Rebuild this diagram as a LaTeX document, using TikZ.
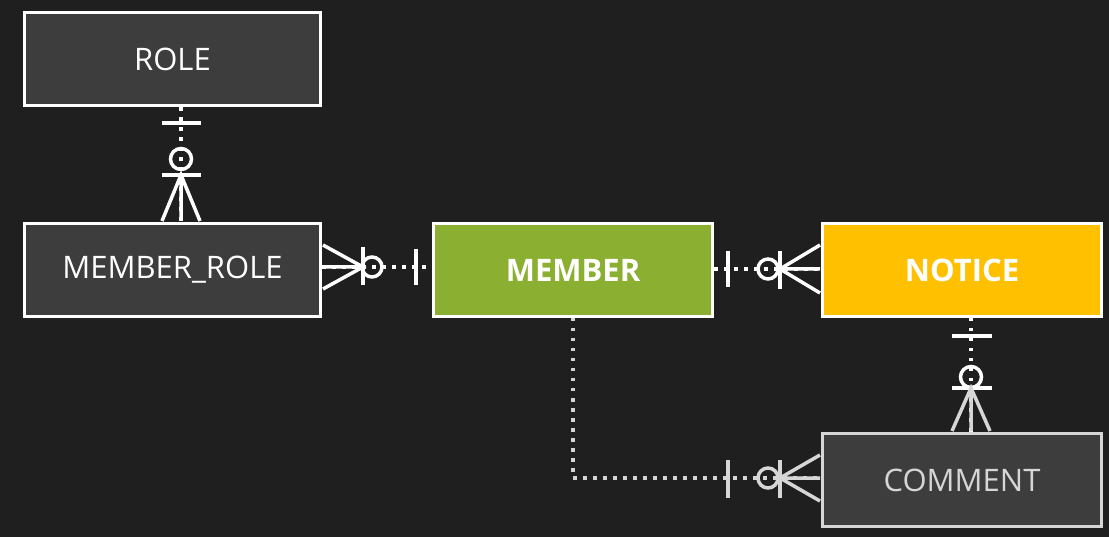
\documentclass[tikz,border=0pt]{standalone}
\usepackage{fontspec}
\setmainfont{Open Sans}
\usetikzlibrary{calc}
\definecolor{bg}{HTML}{1F1F1F}
\definecolor{boxdark}{HTML}{3D3D3D}
\definecolor{memgreen}{HTML}{8BAF31}
\definecolor{notyellow}{HTML}{FFC000}
\definecolor{lgray}{HTML}{D6D6D6}
\tikzset{
  erbox/.style={draw=white, line width=3pt, minimum width=296pt, minimum height=93pt, inner sep=0pt, font=\fontsize{31}{33}\selectfont},
  darkbox/.style={erbox, fill=boxdark, text=white},
  boldbox/.style={erbox, text=white, minimum width=279pt, font=\fontsize{31}{33}\selectfont\bfseries},
  dotline/.style={line width=3.5pt, dash pattern=on 3.5pt off 6.5pt, white},
  sym/.style={line width=3.5pt, white},
}
\begin{document}
\begin{tikzpicture}[x=1pt,y=-1pt]
\fill[bg] (0,0) rectangle (1109,537);
\useasboundingbox (0,0) rectangle (1109,537);
% boxes
\node[darkbox] (role) at (172.5,59.5) {ROLE};
\node[darkbox] (mrole) at (172.5,270) {MEMBER\_ROLE};
\node[boldbox, fill=memgreen] (member) at (573,270) {MEMBER};
\node[boldbox, fill=notyellow] (notice) at (962,270) {NOTICE};
\node[erbox, draw=lgray, fill=boxdark, text=lgray, minimum width=279pt] (comment) at (962,480) {COMMENT};
% connector ROLE - MEMBER_ROLE
\draw[dotline] ($(role.south)+(8.5,0)$) -- ($(mrole.north)+(8.5,0)$);
\draw[sym] (162,123) -- (201,123);
\draw[sym] (181,159) circle (10.5);
\draw[sym] (162,175) -- (201,175);
\draw[sym] (162,221) -- (181,175) -- (200,221) (181,175) -- (181,221);
% connector MEMBER_ROLE - MEMBER
\draw[dotline] (mrole.east |- 0,267) -- (member.west |- 0,267);
\draw[sym] (323,245) -- (363,267) -- (323,289) (323,267) -- (363,267);
\draw[sym] (363,247) -- (363,285);
\draw[sym] (372,267) circle (10);
\draw[sym] (416,249) -- (416,285);
% connector MEMBER - NOTICE
\draw[dotline] (member.east |- 0,269) -- (notice.west |- 0,269);
\draw[sym] (728,251) -- (728,287);
\draw[sym] (768,269) circle (10);
\draw[sym] (780,251) -- (780,289);
\draw[sym] (820,245) -- (780,269) -- (820,293) (780,269) -- (820,269);
% connector NOTICE - COMMENT
\draw[dotline] ($(notice.south)+(9,0)$) -- ($(comment.north)+(9,0)$);
\draw[sym] (952,336) -- (992,336);
\draw[sym] (971,377) circle (10.5);
\draw[sym] (952,388) -- (992,388);
\draw[sym, lgray] (952,431) -- (971,388) -- (990,431) (971,388) -- (971,431);
% connector MEMBER - COMMENT
\coordinate (bend) at (573,478);
\draw[dotline, lgray] (member.south) -- (bend) -- (comment.west |- bend);
\draw[sym, lgray] (728,460) -- (728,498);
\draw[sym, lgray] (768,478) circle (10);
\draw[sym, lgray] (780,460) -- (780,498);
\draw[sym, lgray] (820,455) -- (780,478) -- (820,501) (780,478) -- (820,478);
\end{tikzpicture}
\end{document}
